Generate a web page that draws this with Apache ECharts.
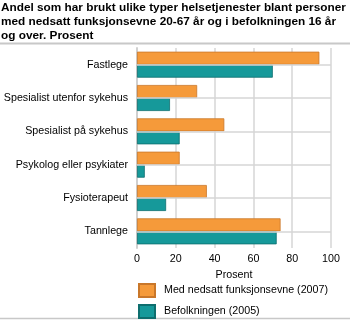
<!DOCTYPE html>
<html>
<head>
<meta charset="utf-8">
<script src="https://cdn.jsdelivr.net/npm/echarts@6/dist/echarts.min.js"></script>
<style>
  html, body { margin: 0; padding: 0; background: #fff; }
  #chart { width: 350px; height: 322px; }
</style>
</head>
<body>
<div id="chart"></div>
<script>
// Service categories, listed top to bottom
const categories = [
  'Fastlege',
  'Spesialist utenfor sykehus',
  'Spesialist på sykehus',
  'Psykolog eller psykiater',
  'Fysioterapeut',
  'Tannlege'
];
// Share (per cent) who used each service
const disabledValues = [94, 31, 45, 22, 36, 74];   // Med nedsatt funksjonsevne (2007)
const populationValues = [70, 17, 22, 4, 15, 72];  // Befolkningen (2005)
const seriesNames = ['Med nedsatt funksjonsevne (2007)', 'Befolkningen (2005)'];
const xTicks = [0, 20, 40, 60, 80, 100];

const titleText = 'Andel som har brukt ulike typer helsetjenester blant personer\nmed nedsatt funksjonsevne 20-67 år og i befolkningen 16 år\nog over. Prosent';

const font = 'Arial, "Liberation Sans", sans-serif';
const labelSize = 10.7;
const chart = echarts.init(document.getElementById('chart'), null, { renderer: 'canvas' });

chart.setOption({
  animation: false,
  backgroundColor: '#fff',
  title: {
    text: titleText,
    left: 0,
    top: 1,
    padding: [0, 0, 0, 1],
    textStyle: { fontFamily: font, fontSize: 11.8, fontWeight: 'bold', color: '#000', lineHeight: 14 }
  },
  graphic: [
    { type: 'line', shape: { x1: 0, y1: 43.5, x2: 350, y2: 43.5 }, style: { stroke: '#c8c8c8', lineWidth: 2 } },
    { type: 'line', shape: { x1: 0, y1: 318.5, x2: 350, y2: 318.5 }, style: { stroke: '#c8c8c8', lineWidth: 1.5 } }
  ],
  legend: {
    orient: 'vertical',
    left: 138,
    top: 283,
    padding: 0,
    icon: 'rect',
    itemWidth: 16,
    itemHeight: 13,
    itemGap: 6,
    selectedMode: false,
    data: seriesNames,
    textStyle: { fontFamily: font, fontSize: labelSize, color: '#000', padding: [0, 0, 0, 4] }
  },
  grid: { left: 137, right: 19, top: 48, bottom: 74, outerBoundsMode: 'none', containLabel: false },
  xAxis: {
    type: 'value',
    min: xTicks[0],
    max: xTicks[xTicks.length - 1],
    interval: 20,
    name: 'Prosent',
    nameLocation: 'middle',
    nameGap: 22,
    nameTextStyle: { fontFamily: font, fontSize: labelSize, color: '#000' },
    axisLine: { show: false },
    axisTick: { show: false },
    axisLabel: { fontFamily: font, fontSize: labelSize, color: '#000', margin: 6 },
    splitLine: { show: true, lineStyle: { color: '#d6d6d6', width: 1.5 } }
  },
  yAxis: {
    type: 'category',
    data: categories,
    inverse: true,
    axisLine: { show: true, lineStyle: { color: '#d0d0d0', width: 2 } },
    axisTick: { show: false },
    axisLabel: { fontFamily: font, fontSize: labelSize, color: '#000', margin: 9 },
    splitLine: { show: false }
  },
  series: [
    {
      // category centre rules behind the bars
      type: 'line',
      data: [],
      z: 1,
      silent: true,
      markLine: {
        silent: true,
        symbol: 'none',
        label: { show: false },
        lineStyle: { color: '#d6d6d6', width: 1.5, type: 'solid' },
        data: categories.map(c => ({ yAxis: c }))
      }
    },
    {
      name: seriesNames[0],
      type: 'bar',
      z: 3,
      data: disabledValues,
      barGap: '0%',
      barCategoryGap: '22%',
      itemStyle: { color: '#f59a3a', borderColor: '#c9772a', borderWidth: 0.8 }
    },
    {
      name: seriesNames[1],
      type: 'bar',
      z: 3,
      data: populationValues,
      barGap: '0%',
      barCategoryGap: '22%',
      itemStyle: { color: '#16999a', borderColor: '#0e6e6e', borderWidth: 0.8 }
    }
  ]
});
</script>
</body>
</html>
